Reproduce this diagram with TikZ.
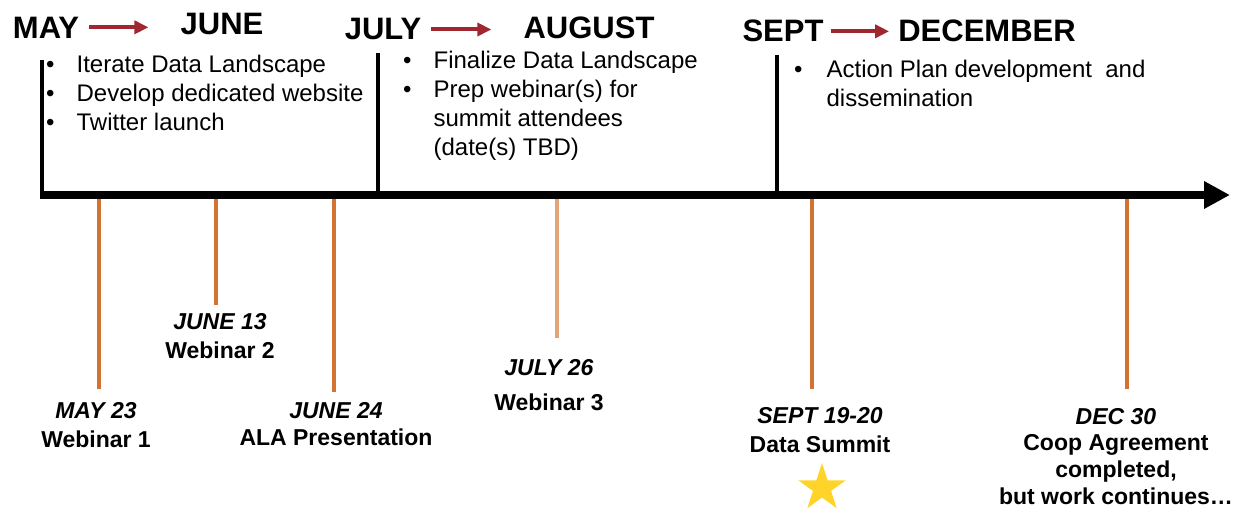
\documentclass[tikz,border=0pt]{standalone}
\usepackage{fontspec}
\setmainfont{Liberation Sans}
\usetikzlibrary{arrows.meta,shapes.geometric}

\definecolor{monthred}{HTML}{A0262F}
\definecolor{tickorange}{HTML}{D4722F}
\definecolor{ticklight}{HTML}{E3A477}
\definecolor{staryellow}{HTML}{FFD42A}

\tikzset{
  month/.style={font=\fontsize{31}{31}\selectfont\bfseries, inner sep=0pt, anchor=base},
  montharrow/.style={draw=monthred, line width=4pt, -{Triangle[length=14pt,width=13pt]}},
  items/.style={font=\fontsize{24}{29}\selectfont, inner sep=0pt, anchor=north west},
  event/.style={font=\fontsize{23}{29}\selectfont\bfseries, inner sep=0pt, anchor=north},
  tickline/.style={draw=tickorange, line width=3.5pt},
  divider/.style={line width=4pt},
}

\begin{document}
\begin{tikzpicture}[x=1pt,y=-1pt]
\useasboundingbox (0,0) rectangle (1255,511);

\node[month] (may) at (46,38) {MAY};
\node[month] (june) at (222,35) {JUNE};
\node[month] (july) at (383,40) {JULY};
\node[month] (aug) at (589,38) {AUGUST};
\node[month] (sept) at (783,42) {SEPT};
\node[month] (dec) at (987,42) {DECEMBER};

\draw[montharrow, shorten <=10pt, shorten >=32pt] (may.east) -- (may.east -| june.west);
\draw[montharrow, shorten <=10pt, shorten >=32pt] (july.east) -- (july.east -| aug.west);
\draw[montharrow, shorten <=7pt, shorten >=9pt] (sept.east) -- (sept.east -| dec.west);

\node[items] (list1) at (46,51.7) {\begin{tabular}{@{}l@{\hspace{22pt}}l@{}}
\textbullet & Iterate Data Landscape\\
\textbullet & Develop dedicated website\\
\textbullet & Twitter launch
\end{tabular}};
\node[items] (list2) at (403,47.7) {\begin{tabular}{@{}l@{\hspace{22pt}}l@{}}
\textbullet & Finalize Data Landscape\\
\textbullet & Prep webinar(s) for\\
 & summit attendees\\
 & (date(s) TBD)
\end{tabular}};
\node[items] (list3) at (794,56.7) {\begin{tabular}{@{}l@{\hspace{24pt}}l@{}}
\textbullet & Action Plan development\ \ and\\
 & dissemination
\end{tabular}};

\coordinate (axisstart) at (40,195);
\coordinate (axisend) at (1230,195);
\coordinate (d1) at (42,60);
\coordinate (d2) at (378,53);
\coordinate (d3) at (777,55);

\node[event] (may23) at (96,397.7) {\begin{tabular}{@{}c@{}}\textit{MAY 23}\\Webinar 1\end{tabular}};
\node[event] (jun13) at (220,308.7) {\begin{tabular}{@{}c@{}}\textit{JUNE 13}\\Webinar 2\end{tabular}};
\node[event] (jun24) at (336,397.7) {\begin{tabular}{@{}c@{}}\textit{JUNE 24}\\[-2pt]ALA Presentation\end{tabular}};
\node[event] (jul26) at (549,354.7) {\begin{tabular}{@{}c@{}}\textit{JULY 26}\\[6pt]Webinar 3\end{tabular}};
\node[event] (sep19) at (820,402.7) {\begin{tabular}{@{}c@{}}\textit{SEPT 19-20}\\Data Summit\end{tabular}};
\node[event] (dec30) at (1116,404) {\begin{tabular}{@{}c@{}}\textit{DEC 30}\\[-3pt]Coop Agreement\\[-2pt]completed,\\[-2pt]but work continues\ldots\end{tabular}};
\node[star, star points=5, star point ratio=2.618, fill=staryellow, minimum size=50pt, inner sep=0pt] (summitstar) at (822,488) {};

\coordinate (t1) at (99,195);
\coordinate (t2) at (216,195);
\coordinate (t3) at (334,195);
\coordinate (t4) at (557,195);
\coordinate (t5) at (812,195);
\coordinate (t6) at (1127,195);

\draw[tickline, shorten >=9pt] (t1) -- (t1 |- may23.north);
\draw[tickline, shorten >=4pt] (t2) -- (t2 |- jun13.north);
\draw[tickline, shorten >=6pt] (t3) -- (t3 |- jun24.north);
\draw[tickline, draw=ticklight, shorten >=17pt] (t4) -- (t4 |- jul26.north);
\draw[tickline, shorten >=14pt] (t5) -- (t5 |- sep19.north);
\draw[tickline, shorten >=15pt] (t6) -- (t6 |- dec30.north);

\draw[divider] (d1) -- (d1 |- axisstart);
\draw[divider] (d2) -- (d2 |- axisstart);
\draw[divider] (d3) -- (d3 |- axisstart);
\draw[line width=8pt, -{Triangle[length=26pt,width=26pt]}] (axisstart) -- (axisend);
\end{tikzpicture}
\end{document}
